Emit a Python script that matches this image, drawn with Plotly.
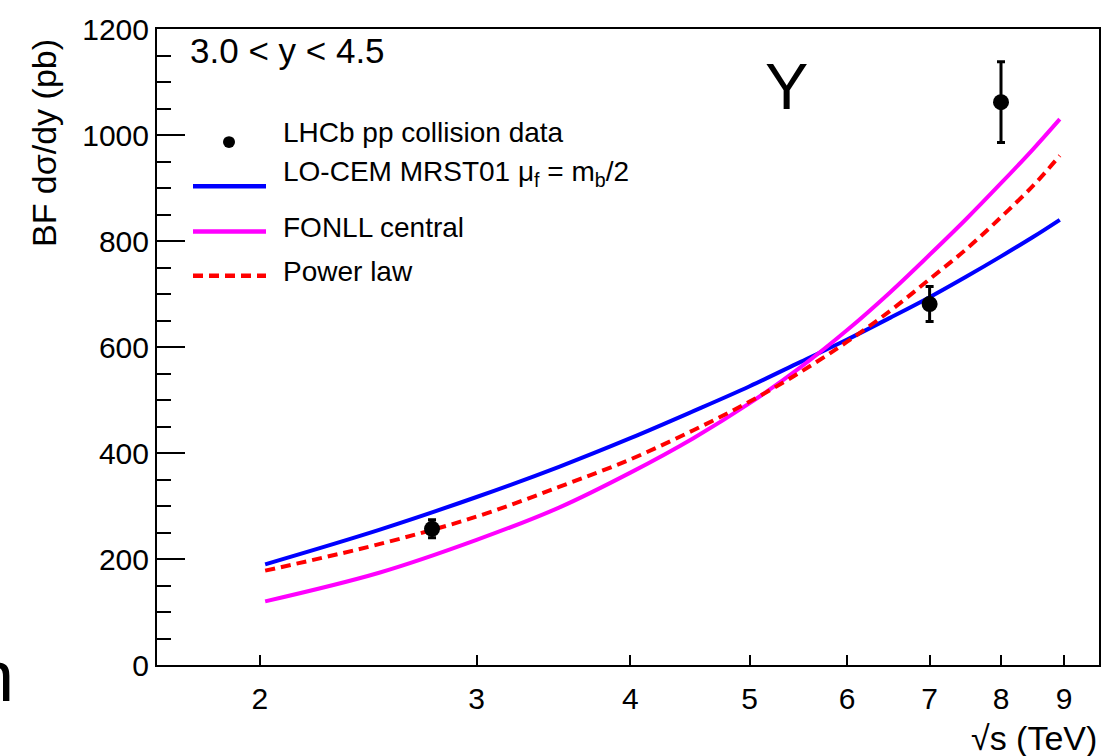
import plotly.graph_objects as go

# ---- data ----
sqrt_s = [2.02, 2.5, 3.0, 3.5, 4.0, 4.5, 5.0, 5.5, 6.0, 6.5, 7.0, 7.5, 8.0, 8.5, 8.93]
cem_mrst01 = [190, 255, 317, 374, 428, 479, 526, 572, 614, 655, 694, 733, 771, 808, 840]
fonll_central = [120, 174, 236, 297, 363, 428, 494, 562, 632, 703, 774, 842, 909, 974, 1030]
power_law = [178, 228, 280, 336, 388, 443, 497, 553, 610, 668, 728, 785, 845, 905, 961]

data_x = [2.76, 7.0, 8.0]
data_y = [257, 681, 1062]
data_err = [17, 33, 76]

x_ticks = [2, 3, 4, 5, 6, 7, 8, 9]

legend_labels = [
    "LHCb pp collision data",
    "LO-CEM MRST01 μ<sub>f</sub> = m<sub>b</sub>/2",
    "FONLL central",
    "Power law",
]

# ---- geometry helpers (pixels -> paper) ----
W, H = 1113, 756
L, R, T, B = 157, 1099, 18, 665
def px(xp):
    return (xp - L) / (R - L)
def py(yp):
    return (B - yp) / (B - T)

SANS = "Liberation Sans, Arial, Helvetica, sans-serif"

fig = go.Figure()

fig.add_trace(go.Scatter(x=sqrt_s, y=cem_mrst01, mode="lines", line=dict(color="#0000ff", width=4, shape="spline"),
                         showlegend=False, hoverinfo="skip"))
fig.add_trace(go.Scatter(x=sqrt_s, y=fonll_central, mode="lines", line=dict(color="#ff00ff", width=4, shape="spline"),
                         showlegend=False, hoverinfo="skip"))
fig.add_trace(go.Scatter(x=sqrt_s, y=power_law, mode="lines",
                         line=dict(color="#ff0000", width=4, dash="10px,6px", shape="spline"),
                         showlegend=False, hoverinfo="skip"))
fig.add_trace(go.Scatter(x=data_x, y=data_y, mode="markers",
                         marker=dict(color="black", size=16),
                         error_y=dict(type="data", array=data_err, visible=True, color="black", thickness=3, width=4),
                         showlegend=False, hoverinfo="skip"))

# ---- manual legend ----
shapes = []
r = 6
shapes.append(dict(type="circle", xref="paper", yref="paper",
                   x0=px(229 - r), x1=px(229 + r), y0=py(133 + r), y1=py(133 - r),
                   fillcolor="black", line=dict(color="black", width=0)))
leg_lines = [(178, "#0000ff", "solid"), (224, "#ff00ff", "solid"), (269, "#ff0000", "10px,6px")]
for yy, col, dash in leg_lines:
    shapes.append(dict(type="line", xref="paper", yref="paper",
                       x0=px(193), x1=px(266), y0=py(yy), y1=py(yy),
                       line=dict(color=col, width=4.5, dash=dash)))

annotations = []
leg_y = [123, 165, 220, 265]
for lab, yy in zip(legend_labels, leg_y):
    annotations.append(dict(text=lab, xref="paper", yref="paper", x=px(281), y=py(yy),
                            xanchor="left", yanchor="middle", showarrow=False,
                            font=dict(family=SANS, size=28, color="black")))

annotations.append(dict(text="3.0 < y < 4.5", xref="paper", yref="paper", x=px(188), y=py(40),
                        xanchor="left", yanchor="middle", showarrow=False,
                        font=dict(family=SANS, size=35, color="black")))
annotations.append(dict(text="Υ", xref="paper", yref="paper", x=px(786), y=py(76),
                        xanchor="center", yanchor="middle", showarrow=False,
                        font=dict(family=SANS, size=65, color="black")))
# axis titles
annotations.append(dict(text="BF dσ/dy (pb)", xref="paper", yref="paper", x=px(44), y=py(134),
                        xanchor="center", yanchor="middle", textangle=-90, showarrow=False,
                        font=dict(family=SANS, size=34, color="black")))
annotations.append(dict(text="√s (TeV)", xref="paper", yref="paper", x=px(1099), y=py(739),
                        xanchor="right", yanchor="middle", showarrow=False,
                        font=dict(family=SANS, size=34, color="black")))
# stray glyph at the lower-left edge of the reference
annotations.append(dict(text="n", xref="paper", yref="paper", x=px(16), y=py(676),
                        xanchor="right", yanchor="middle", showarrow=False,
                        font=dict(family=SANS, size=72, color="black")))

fig.update_layout(
    width=W, height=H,
    margin=dict(l=L, r=W - R, t=T, b=H - B),
    paper_bgcolor="white", plot_bgcolor="white",
    shapes=shapes, annotations=annotations,
    xaxis=dict(type="log", range=[0.2175, 0.9827],
               tickmode="array", tickvals=x_ticks, ticktext=[str(v) for v in x_ticks],
               ticks="inside", ticklen=10, tickwidth=1.5, tickcolor="black",
               showgrid=False, zeroline=False,
               showline=True, linecolor="black", linewidth=2, mirror=True,
               tickfont=dict(family=SANS, size=30, color="black"), ticklabelstandoff=6),
    yaxis=dict(range=[0, 1200], tickmode="linear", tick0=0, dtick=200,
               ticks="inside", ticklen=28, tickwidth=1.5, tickcolor="black",
               minor=dict(dtick=50, ticks="inside", ticklen=14, tickwidth=1.5, tickcolor="black", showgrid=False),
               showgrid=False, zeroline=False,
               showline=True, linecolor="black", linewidth=2, mirror=True,
               tickfont=dict(family=SANS, size=30, color="black")),
)

fig.write_html("out.html")
